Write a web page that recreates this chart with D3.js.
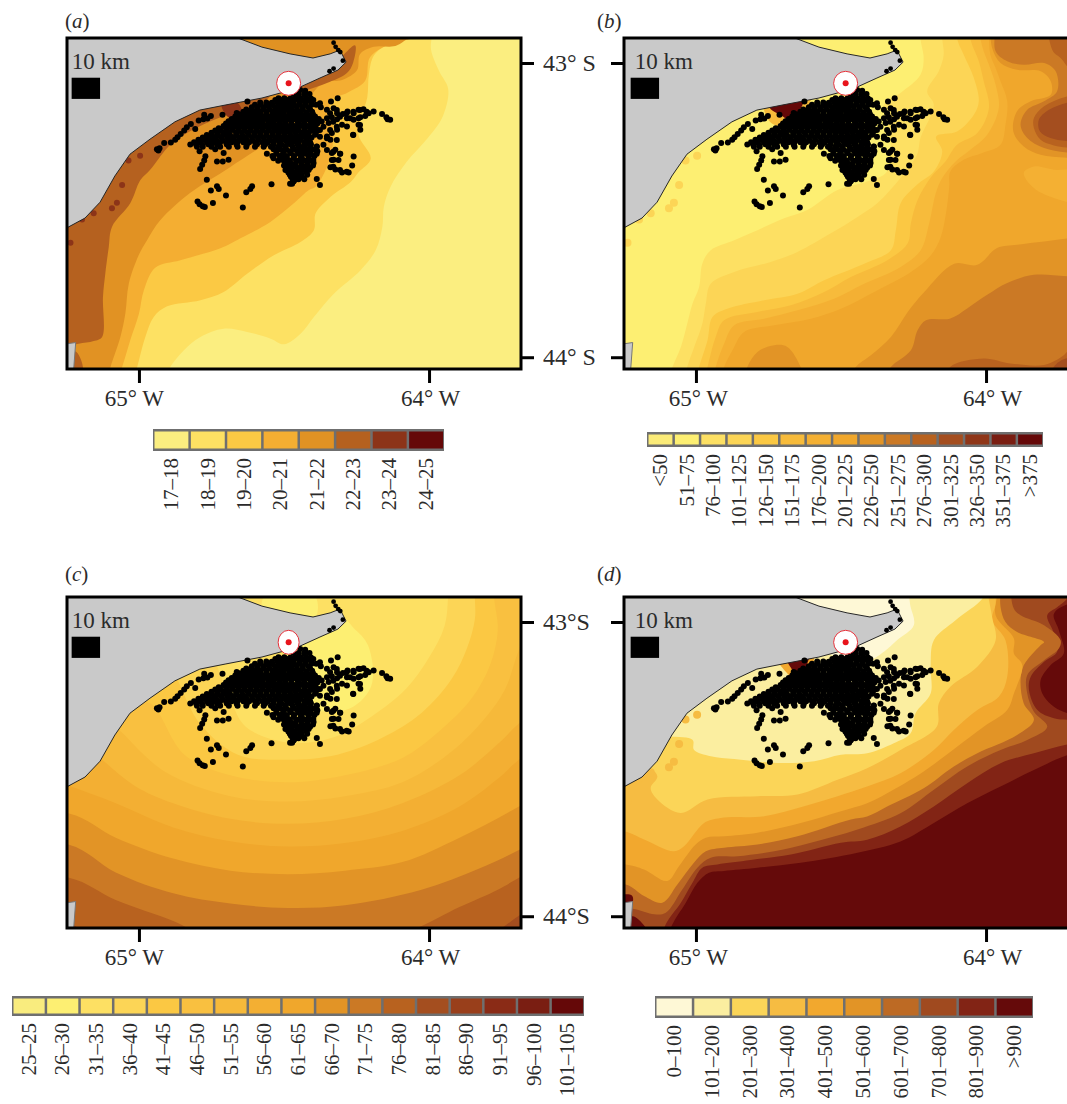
<!DOCTYPE html>
<html>
<head>
<meta charset="utf-8">
<script src="https://cdn.jsdelivr.net/npm/d3@7"></script>
<style>
  html, body { margin: 0; padding: 0; background: #fff; }
  svg { display: block; }
  text { font-family: "Liberation Serif", serif; fill: #2b2b2b; }
</style>
</head>
<body>
<div id="chart"></div>
<script>
// all map data in degrees west / degrees south

const labelsA = ['17–18', '18–19', '19–20', '20–21', '21–22', '22–23', '23–24', '24–25'];
const colorsA = ['#fbee80', '#fde163', '#fbc944', '#f4ae32', '#e19223', '#b5611f', '#8c3418', '#650808'];

const labelsB = ['<50', '51–75', '76–100', '101–125', '126–150', '151–175', '176–200', '201–225', '226–250', '251–275', '276–300', '301–325', '326–350', '351–375', '>375'];
const colorsB = ['#fbeb78', '#fdef72', '#fde063', '#fcd556', '#fbc843', '#f7bb3b', '#f4b033', '#f0a72c', '#e29426', '#cb7925', '#b8621f', '#a44e1f', '#8f3618', '#7a1e12', '#650808'];

const labelsC = ['25–25', '26–30', '31–35', '36–40', '41–45', '46–50', '51–55', '56–60', '61–65', '66–70', '71–75', '76–80', '81–85', '86–90', '91–95', '96–100', '101–105'];
const colorsC = ['#f9ec7e', '#fdef72', '#fde063', '#fcd556', '#fbc843', '#f9c040', '#f6b93a', '#f3af33', '#f0a72c', '#e29426', '#cb7925', '#b8621f', '#a44e1f', '#993f1b', '#8a2b16', '#7a1e12', '#650808'];

const labelsD = ['0–100', '101–200', '201–300', '301–400', '401–500', '501–600', '601–700', '701–800', '801–900', '>900'];
const colorsD = ['#fef8d6', '#fbeea0', '#fbd558', '#f6bc42', '#f2a82e', '#e29426', '#bd6a24', '#a04a1f', '#822415', '#650a0a'];

const mainland = [[65.4, 42.7], [64.66, 42.7], [64.659, 42.915], [64.576, 42.946], [64.479, 42.969], [64.40, 42.983], [64.341, 42.969], [64.307, 42.956], [64.286, 42.997], [64.314, 43.024], [64.376, 43.051], [64.445, 43.082], [64.486, 43.095], [64.576, 43.119], [64.703, 43.143], [64.79, 43.16], [64.876, 43.20], [64.962, 43.259], [65.031, 43.31], [65.083, 43.384], [65.134, 43.473], [65.186, 43.527], [65.248, 43.56], [65.4, 43.6]];
const island = [[65.3, 43.962], [65.218, 43.95], [65.228, 44.08], [65.3, 44.08]];

const sitePoint = [64.484, 43.069];
const scaleBar = [[65.232, 43.05], [65.134, 43.122]];

// blotches along the coast
const coastSpots = [[65.058, 43.415], [65.076, 43.475], [65.093, 43.494], [65.156, 43.511], [65.196, 43.532], [65.236, 43.611], [65.036, 43.331], [64.996, 43.315]];

// dive / sighting positions
const sightings = [
  [64.444,43.092],[64.427,43.094],[64.467,43.105],[64.449,43.105],[64.430,43.106],[64.412,43.105],
  [64.519,43.120],[64.499,43.120],[64.478,43.121],[64.460,43.119],[64.442,43.120],[64.423,43.120],[64.407,43.121],
  [64.582,43.134],[64.561,43.134],[64.542,43.135],[64.522,43.133],[64.504,43.134],[64.484,43.134],[64.467,43.135],[64.446,43.134],[64.427,43.134],[64.407,43.133],
  [64.611,43.150],[64.591,43.150],[64.570,43.151],[64.552,43.149],[64.531,43.150],[64.513,43.150],[64.495,43.151],[64.474,43.150],[64.456,43.149],[64.435,43.150],[64.415,43.151],
  [64.640,43.166],[64.621,43.166],[64.600,43.167],[64.582,43.165],[64.561,43.166],[64.540,43.166],[64.522,43.167],[64.504,43.166],[64.483,43.165],[64.465,43.166],[64.444,43.166],[64.423,43.167],[64.403,43.166],
  [64.668,43.182],[64.649,43.182],[64.628,43.183],[64.610,43.181],[64.589,43.182],[64.570,43.182],[64.550,43.183],[64.529,43.182],[64.511,43.181],[64.490,43.182],[64.472,43.182],[64.451,43.183],[64.432,43.182],[64.412,43.181],[64.393,43.182],
  [64.691,43.198],[64.672,43.198],[64.651,43.199],[64.633,43.197],[64.612,43.198],[64.593,43.198],[64.573,43.199],[64.552,43.198],[64.534,43.197],[64.513,43.198],[64.495,43.198],[64.474,43.199],[64.453,43.198],[64.432,43.197],[64.410,43.198],[64.389,43.198],[64.370,43.199],
  [64.708,43.214],[64.688,43.214],[64.667,43.215],[64.646,43.213],[64.628,43.214],[64.607,43.214],[64.587,43.215],[64.566,43.214],[64.545,43.213],[64.525,43.214],[64.504,43.214],[64.483,43.215],[64.462,43.214],[64.442,43.213],[64.419,43.214],[64.396,43.214],
  [64.737,43.229],[64.718,43.229],[64.697,43.230],[64.676,43.228],[64.656,43.229],[64.635,43.229],[64.614,43.230],[64.593,43.229],[64.573,43.228],[64.552,43.229],[64.531,43.229],[64.511,43.230],[64.490,43.229],[64.469,43.228],[64.449,43.229],[64.428,43.229],[64.404,43.230],[64.384,43.229],
  [64.766,43.245],[64.748,43.245],[64.727,43.246],[64.706,43.244],[64.686,43.245],[64.665,43.245],[64.644,43.246],[64.623,43.245],[64.603,43.244],[64.582,43.245],[64.561,43.245],[64.540,43.246],[64.520,43.245],[64.499,43.244],[64.478,43.245],[64.458,43.245],[64.437,43.246],[64.416,43.245],[64.393,43.244],
  [64.795,43.261],[64.775,43.261],[64.755,43.262],[64.734,43.260],[64.713,43.261],[64.692,43.261],[64.672,43.262],[64.651,43.261],[64.630,43.260],[64.610,43.261],[64.589,43.261],[64.568,43.262],[64.548,43.261],[64.527,43.260],[64.504,43.261],[64.483,43.261],[64.462,43.262],[64.442,43.261],[64.421,43.260],
  [64.823,43.277],[64.803,43.277],[64.782,43.278],[64.761,43.276],[64.731,43.277],[64.697,43.277],[64.663,43.278],[64.628,43.277],[64.593,43.276],[64.565,43.277],[64.536,43.277],[64.508,43.278],[64.478,43.277],[64.453,43.276],[64.430,43.277],[64.407,43.277],
  [64.536,43.293],[64.513,43.293],[64.492,43.294],[64.467,43.292],[64.444,43.293],[64.421,43.293],[64.396,43.294],
  [64.559,43.308],[64.527,43.308],[64.504,43.309],[64.476,43.307],[64.449,43.308],[64.427,43.308],[64.407,43.309],[64.387,43.308],
  [64.536,43.324],[64.508,43.324],[64.490,43.325],[64.467,43.323],[64.442,43.324],[64.415,43.324],
  [64.495,43.340],[64.478,43.340],[64.460,43.341],[64.440,43.339],[64.419,43.340],[64.398,43.340],
  [64.490,43.356],[64.472,43.356],[64.451,43.357],[64.430,43.355],[64.410,43.356],
  [64.485,43.372],[64.465,43.372],[64.444,43.373],[64.423,43.371],
  [64.476,43.387],[64.456,43.387],[64.437,43.388],[64.467,43.403],
  [64.338,43.131],[64.315,43.120],[64.389,43.142],[64.373,43.150],[64.352,43.159],[64.329,43.154],[64.317,43.171],[64.335,43.184],[64.346,43.204],[64.317,43.191],
  [64.297,43.173],[64.281,43.165],[64.260,43.171],[64.243,43.159],[64.226,43.157],[64.208,43.171],[64.191,43.165],[64.162,43.173],[64.147,43.184],[64.134,43.193],[64.143,43.191],
  [64.283,43.188],[64.260,43.193],[64.237,43.184],[64.243,43.210],[64.237,43.227],[64.220,43.180],[64.300,43.210],[64.317,43.227],[64.335,43.238],[64.352,43.250],[64.340,43.261],[64.262,43.244],[64.283,43.216],
  [64.364,43.278],[64.387,43.284],[64.323,43.295],[64.306,43.308],[64.335,43.306],[64.329,43.329],[64.340,43.354],[64.323,43.362],[64.300,43.372],[64.277,43.372],[64.265,43.348],[64.260,43.318],[64.387,43.394],[64.376,43.415],
  [64.766,43.397],[64.752,43.433],[64.731,43.419],[64.725,43.428],[64.700,43.450],[64.630,43.439],[64.616,43.428],[64.610,43.419],[64.543,43.412],[64.745,43.476],[64.798,43.471],[64.791,43.480],[64.780,43.487],[64.773,43.489],[64.642,43.491],[64.472,43.410],[64.465,43.399],
  [64.938,43.293],[64.929,43.290],[64.933,43.297],[64.913,43.272],[64.890,43.270],[64.875,43.261],[64.867,43.252],[64.856,43.241],[64.844,43.229],[64.835,43.218],[64.821,43.207],[64.806,43.224],[64.794,43.195],[64.775,43.176],[64.764,43.189],[64.778,43.191],[64.752,43.180],[64.712,43.176],[64.626,43.131],[64.663,43.170],
  [64.791,43.300],[64.771,43.317],[64.775,43.331],[64.782,43.346],[64.789,43.360],[64.731,43.335],[64.711,43.335],[64.691,43.329],[64.708,43.306],[64.737,43.293],
  // right arm, thicker part
  [64.341,43.171],[64.318,43.160],[64.284,43.171],[64.261,43.166],[64.238,43.160],[64.215,43.166],[64.352,43.188],[64.330,43.200],[64.307,43.183],[64.272,43.188],[64.243,43.188],
  [64.376,43.137],[64.399,43.126],[64.364,43.217],[64.341,43.228],[64.318,43.217],[64.376,43.251],[64.352,43.256],[64.318,43.262],[64.387,43.285],[64.352,43.296],[64.330,43.302],[64.307,43.308],
  [64.330,43.353],[64.307,43.364],[64.284,43.370],[64.376,43.228],[64.410,43.194],[64.399,43.217],[64.433,43.239],[64.422,43.274],[64.445,43.285],[64.410,43.308],[64.399,43.330],[64.433,43.330],
  [64.468,43.376],[64.433,43.353],[64.479,43.353],[64.456,43.387],[64.479,43.410],[64.502,43.330],[64.490,43.364],[64.238,43.211],[64.261,43.245],[64.335,43.330],[64.312,43.330]
];
// the solid middle of the cloud, one south latitude with its west longitudes
const denseRows = [
  [43.126, [64.53, 64.51, 64.49, 64.47, 64.45, 64.435, 64.415]],
  [43.142, [64.60, 64.58, 64.56, 64.54, 64.52, 64.50, 64.485, 64.465, 64.445, 64.425, 64.405]],
  [43.158, [64.63, 64.61, 64.59, 64.57, 64.55, 64.53, 64.51, 64.49, 64.475, 64.455, 64.435, 64.41]],
  [43.174, [64.655, 64.635, 64.615, 64.595, 64.58, 64.56, 64.54, 64.52, 64.50, 64.48, 64.46, 64.44, 64.42, 64.40]],
  [43.190, [64.68, 64.66, 64.64, 64.62, 64.60, 64.58, 64.56, 64.54, 64.52, 64.50, 64.485, 64.465, 64.445, 64.42, 64.40, 64.38]],
  [43.206, [64.70, 64.68, 64.66, 64.64, 64.62, 64.60, 64.58, 64.555, 64.535, 64.515, 64.495, 64.475, 64.45, 64.43, 64.405, 64.385]],
  [43.222, [64.725, 64.70, 64.68, 64.655, 64.635, 64.615, 64.595, 64.575, 64.555, 64.535, 64.515, 64.495, 64.475, 64.455, 64.43, 64.41, 64.39]],
  [43.237, [64.75, 64.73, 64.71, 64.69, 64.665, 64.645, 64.625, 64.60, 64.58, 64.56, 64.54, 64.52, 64.50, 64.48, 64.46, 64.44, 64.415, 64.39]],
  [43.253, [64.78, 64.76, 64.74, 64.715, 64.695, 64.675, 64.655, 64.635, 64.61, 64.59, 64.57, 64.55, 64.53, 64.51, 64.49, 64.47, 64.45, 64.425, 64.405]],
  [43.269, [64.81, 64.79, 64.765, 64.745, 64.72, 64.70, 64.68, 64.66, 64.64, 64.62, 64.60, 64.575, 64.555, 64.535, 64.515, 64.49, 64.47, 64.45, 64.43, 64.41]],
  [43.285, [64.80, 64.78, 64.75, 64.72, 64.69, 64.66, 64.63, 64.60, 64.57, 64.545, 64.52, 64.495, 64.47, 64.45, 64.43, 64.41]],
  [43.300, [64.525, 64.50, 64.48, 64.455, 64.435, 64.41, 64.385]],
  [43.316, [64.54, 64.515, 64.49, 64.465, 64.44, 64.415, 64.395]],
  [43.332, [64.52, 64.50, 64.48, 64.455, 64.43, 64.405]],
  [43.348, [64.50, 64.48, 64.46, 64.44, 64.42, 64.40]],
  [43.364, [64.495, 64.475, 64.455, 64.435, 64.415]],
  [43.380, [64.48, 64.46, 64.44, 64.42]],
  [43.395, [64.47, 64.45, 64.43]]
];
const tipSightings = [[64.329, 42.931], [64.322, 42.945], [64.313, 42.956], [64.306, 42.963], [64.297, 42.992], [64.329, 43.019], [64.343, 43.028]];

// contour rings as [legend class, polygon], painted in order over the base class
const baseA = 0;
const isoA = [
  [1, [[63.99,42.7],[63.99,42.9],[63.993,42.955],[63.964,43.03],[63.934,43.088],[63.952,43.18],[64.005,43.256],[64.077,43.336],[64.133,43.421],[64.156,43.489],[64.161,43.557],[64.184,43.636],[64.236,43.704],[64.328,43.784],[64.397,43.863],[64.443,43.92],[64.50,43.956],[64.546,43.937],[64.627,43.914],[64.708,43.903],[64.788,43.931],[64.845,43.976],[64.892,44.033],[64.915,44.08],[65.6,44.3],[65.6,42.7]]],
  [2, [[64.05,42.75],[64.053,42.9],[64.124,42.926],[64.189,42.973],[64.207,43.036],[64.213,43.117],[64.231,43.175],[64.243,43.244],[64.201,43.325],[64.243,43.371],[64.27,43.404],[64.34,43.455],[64.391,43.511],[64.397,43.568],[64.443,43.608],[64.535,43.653],[64.627,43.716],[64.708,43.778],[64.788,43.806],[64.903,43.827],[64.949,43.863],[64.978,43.931],[65.006,44.033],[65.02,44.08],[65.6,44.3],[65.6,42.7]]],
  [3, [[64.05,42.75],[64.055,42.91],[64.124,42.93],[64.203,42.98],[64.22,43.06],[64.28,43.10],[64.34,43.13],[64.33,43.23],[64.34,43.32],[64.39,43.42],[64.414,43.432],[64.466,43.477],[64.547,43.54],[64.65,43.596],[64.719,43.63],[64.857,43.67],[64.943,43.695],[64.983,43.772],[65.0,43.852],[65.03,43.942],[65.058,44.033],[65.076,44.08],[65.6,44.3],[65.6,42.7]]],
  [4, [[64.05,42.75],[64.05,42.88],[64.11,42.94],[64.19,42.945],[64.238,42.97],[64.248,43.024],[64.30,43.058],[64.366,43.068],[64.45,43.17],[64.514,43.238],[64.686,43.354],[64.824,43.442],[64.926,43.534],[64.972,43.602],[65.001,43.653],[65.035,43.75],[65.047,43.852],[65.064,43.931],[65.098,44.033],[65.11,44.08],[65.6,44.3],[65.6,42.7]]],
  [5, [[64.6,43.0],[64.55,43.05],[64.55,43.115],[64.6,43.14],[64.68,43.17],[64.78,43.21],[64.87,43.26],[64.903,43.289],[64.962,43.364],[64.995,43.398],[65.03,43.477],[65.093,43.557],[65.104,43.625],[65.116,43.716],[65.124,43.795],[65.127,43.931],[65.156,43.945],[65.208,43.954],[65.248,43.96],[65.5,43.96],[65.5,43.0]]],
  [5, [[64.255,42.94],[64.262,43.0],[64.283,43.034],[64.352,43.068],[64.421,43.092],[64.47,43.105],[64.45,43.03],[64.33,43.0]]],
  [5, [[65.22,43.98],[65.195,44.05],[65.3,44.05]]],
  [6, [[64.714,43.142],[64.662,43.134],[64.645,43.17],[64.686,43.187],[64.708,43.165]]]
];

const baseB = 1;
const isoB = [
  [2, [[64.22,42.8],[64.226,42.915],[64.215,42.983],[64.226,43.04],[64.295,43.102],[64.352,43.142],[64.33,43.255],[64.341,43.369],[64.41,43.403],[64.512,43.432],[64.616,43.5],[64.696,43.528],[64.788,43.568],[64.868,43.602],[64.949,43.636],[64.978,43.682],[64.989,43.761],[65.012,43.818],[65.03,43.886],[65.052,43.965],[65.081,44.033],[65.098,44.08],[65.1,44.3],[63.4,44.3],[63.4,42.8]]],
  [3, [[64.15,42.8],[64.151,42.915],[64.146,42.972],[64.163,43.028],[64.203,43.096],[64.18,43.142],[64.226,43.255],[64.238,43.312],[64.295,43.391],[64.374,43.476],[64.443,43.523],[64.535,43.579],[64.65,43.642],[64.742,43.676],[64.868,43.71],[64.949,43.75],[64.966,43.818],[64.978,43.886],[65.006,43.965],[65.03,44.033],[65.04,44.08],[65.04,44.3],[63.4,44.3],[63.4,42.8]]],
  [4, [[64.1,42.8],[64.1,42.915],[64.077,42.972],[64.042,43.051],[64.025,43.13],[64.042,43.176],[64.1,43.233],[64.172,43.25],[64.151,43.3],[64.18,43.369],[64.238,43.414],[64.294,43.476],[64.311,43.568],[64.328,43.636],[64.42,43.682],[64.558,43.738],[64.65,43.784],[64.765,43.806],[64.892,43.835],[64.943,43.863],[64.96,43.942],[64.989,44.033],[65.0,44.08],[65.0,44.3],[63.4,44.3],[63.4,42.8]]],
  [5, [[64.05,42.8],[64.054,42.915],[64.025,42.994],[64.008,43.062],[63.99,43.153],[64.03,43.238],[64.1,43.278],[64.14,43.335],[64.192,43.391],[64.236,43.466],[64.259,43.545],[64.27,43.613],[64.34,43.67],[64.466,43.727],[64.558,43.778],[64.673,43.823],[64.788,43.846],[64.903,43.874],[64.932,43.931],[64.96,44.033],[64.972,44.08],[64.972,44.3],[63.4,44.3],[63.4,42.8]]],
  [6, [[64.02,42.8],[64.019,42.915],[64.008,42.96],[63.99,43.006],[63.967,43.074],[63.956,43.153],[63.996,43.244],[64.054,43.295],[64.105,43.335],[64.151,43.391],[64.173,43.442],[64.196,43.545],[64.225,43.636],[64.294,43.693],[64.42,43.75],[64.524,43.801],[64.65,43.84],[64.765,43.869],[64.868,43.891],[64.903,43.954],[64.932,44.033],[64.943,44.08],[64.943,44.3],[63.4,44.3],[63.4,42.8]]],
  [7, [[63.99,42.8],[63.99,42.915],[63.985,42.972],[63.967,43.017],[63.95,43.062],[63.927,43.13],[63.933,43.21],[63.95,43.278],[64.013,43.306],[64.077,43.329],[64.123,43.369],[64.127,43.421],[64.138,43.511],[64.156,43.591],[64.19,43.653],[64.259,43.71],[64.374,43.772],[64.5,43.835],[64.604,43.869],[64.73,43.891],[64.834,43.914],[64.874,43.976],[64.903,44.033],[64.915,44.08],[64.915,44.3],[63.4,44.3],[63.4,42.8]]],
  [6, [[63.87,43.374],[63.835,43.352],[63.766,43.363],[63.697,43.369],[63.686,43.471],[63.766,43.459],[63.835,43.425]]],
  [8, [[64.823,44.033],[64.788,43.982],[64.73,43.959],[64.685,43.965],[64.639,44.033],[64.627,44.08],[64.834,44.08]]],
  [8, [[64.47,44.08],[64.449,44.033],[64.397,43.993],[64.328,43.931],[64.27,43.846],[64.213,43.778],[64.11,43.682],[64.03,43.686],[63.962,43.629],[63.893,43.618],[63.8,43.607],[63.697,43.595],[63.4,43.6],[63.4,44.3],[64.45,44.3]]],
  [9, [[64.35,44.08],[64.328,44.033],[64.259,43.976],[64.236,43.908],[64.207,43.874],[64.123,43.868],[64.065,43.834],[63.996,43.788],[63.927,43.748],[63.835,43.72],[63.697,43.726],[63.4,43.73],[63.4,44.3],[64.35,44.3]]],
  [10, [[64.14,44.08],[64.123,44.032],[64.008,44.004],[63.916,44.021],[63.8,44.026],[63.731,43.992],[63.697,43.958],[63.4,43.95],[63.4,44.3],[64.14,44.3]]],
  [11, [[63.766,44.032],[63.697,44.004],[63.6,44.2],[63.766,44.2]]],
  [8, [[63.985,42.8],[63.985,42.87],[63.979,42.949],[63.95,43.0],[63.893,43.023],[63.812,43.028],[63.777,43.062],[63.777,43.108],[63.846,43.13],[63.893,43.164],[63.906,43.233],[63.87,43.284],[63.812,43.312],[63.697,43.323],[63.4,43.33],[63.4,42.8]]],
  [9, [[63.967,42.8],[63.967,42.87],[63.967,42.96],[63.927,42.994],[63.87,43.006],[63.8,43.0],[63.76,43.028],[63.755,43.096],[63.8,43.13],[63.858,43.159],[63.881,43.21],[63.858,43.255],[63.8,43.289],[63.697,43.306],[63.4,43.31],[63.4,42.8]]],
  [10, [[63.697,43.108],[63.8,43.147],[63.835,43.187],[63.835,43.221],[63.812,43.261],[63.766,43.28],[63.697,43.289],[63.4,43.29],[63.4,43.1]]],
  [11, [[63.697,43.13],[63.783,43.159],[63.818,43.193],[63.814,43.233],[63.778,43.255],[63.697,43.267],[63.4,43.27],[63.4,43.13]]],
  [10, [[63.772,42.8],[63.772,42.955],[63.743,42.983],[63.697,43.028],[63.4,43.03],[63.4,42.8]]],
  [5, [[64.766,43.10],[64.745,43.20],[64.68,43.215],[64.62,43.16],[64.60,43.08]]],
  [14, [[64.745,43.13],[64.745,43.153],[64.703,43.18],[64.676,43.194],[64.628,43.129],[64.64,43.08]]]
];

const baseC = 12;
const isoC = [
  [11, [[65.241,44.02],[65.159,44.06],[64.487,44.11],[63.789,44.057],[63.69,43.998],[63.565,43.92],[63.4,42.7],[65.6,42.7],[65.3,43.97]]],
  [10, [[65.241,43.869],[65.08,43.945],[64.882,44.016],[64.79,44.057],[64.487,44.10],[64.092,44.057],[63.895,43.969],[63.763,43.91],[63.69,43.869],[63.56,43.8],[63.4,42.7],[65.6,42.7],[65.6,43.87]]],
  [9, [[65.241,43.757],[65.08,43.851],[64.882,43.922],[64.685,43.957],[64.487,43.972],[64.29,43.963],[64.026,43.91],[63.829,43.839],[63.69,43.775],[63.56,43.7],[63.4,42.7],[65.6,42.7],[65.6,43.76]]],
  [8, [[65.241,43.651],[65.08,43.733],[64.882,43.804],[64.685,43.845],[64.487,43.857],[64.29,43.845],[64.092,43.816],[63.895,43.733],[63.69,43.627],[63.56,43.55],[63.4,42.7],[65.6,42.7],[65.6,43.65]]],
  [7, [[65.26,43.55],[65.08,43.616],[64.882,43.698],[64.685,43.745],[64.487,43.763],[64.29,43.751],[64.092,43.71],[63.895,43.627],[63.763,43.533],[63.69,43.468],[63.56,43.38],[63.4,42.7],[65.4,42.7],[65.4,43.5]]],
  [6, [[65.2,43.4],[65.133,43.462],[65.014,43.557],[64.882,43.616],[64.685,43.669],[64.487,43.686],[64.29,43.669],[64.092,43.616],[63.895,43.521],[63.763,43.415],[63.69,43.345],[63.56,43.25],[63.4,42.7],[65.2,42.7]]],
  [5, [[65.1,43.33],[65.054,43.38],[64.909,43.51],[64.685,43.592],[64.487,43.61],[64.29,43.592],[64.092,43.545],[63.921,43.439],[63.802,43.321],[63.737,43.227],[63.704,43.133],[63.671,43.027],[63.671,42.909],[63.65,42.7],[65.1,42.7],[65.1,42.9]]],
  [4, [[65.0,43.25],[64.948,43.286],[64.843,43.451],[64.685,43.521],[64.487,43.545],[64.29,43.521],[64.092,43.462],[63.961,43.368],[63.855,43.262],[63.789,43.144],[63.763,43.027],[63.776,42.909],[63.77,42.7],[65.0,42.7]]],
  [3, [[64.9,43.15],[64.882,43.168],[64.79,43.345],[64.659,43.451],[64.487,43.468],[64.316,43.451],[64.158,43.392],[64.026,43.309],[63.921,43.192],[63.868,43.086],[63.842,42.991],[63.842,42.909],[63.84,42.7],[64.9,42.7]]],
  [2, [[64.75,43.1],[64.737,43.133],[64.685,43.262],[64.632,43.356],[64.487,43.41],[64.329,43.392],[64.198,43.321],[64.079,43.227],[64.0,43.121],[63.947,43.015],[63.934,42.909],[63.93,42.7],[64.75,42.7]]],
  [1, [[64.5,43.1],[64.5,43.26],[64.29,43.30],[64.2,43.22],[64.21,43.08],[64.26,43.02],[64.31,42.98]]],
  [1, [[64.566,42.909],[64.395,42.909],[64.395,42.991],[64.566,42.991]]]
];

const baseD = 9;
const isoD = [
  [8, [[65.1,44.08],[65.081,44.027],[65.035,43.954],[64.995,43.886],[64.955,43.852],[64.903,43.846],[64.788,43.835],[64.639,43.818],[64.443,43.784],[64.295,43.746],[64.18,43.683],[64.065,43.616],[63.95,43.559],[63.835,43.503],[63.697,43.446],[63.5,43.42],[63.5,43.33],[63.697,43.316],[63.766,43.288],[63.806,43.243],[63.812,43.198],[63.778,43.147],[63.732,43.107],[63.749,43.028],[63.766,42.972],[63.697,42.932],[63.4,42.9],[63.4,42.7],[65.5,42.7],[65.5,44.2],[65.11,44.2]]],
  [7, [[65.12,44.08],[65.104,44.027],[65.052,43.954],[65.012,43.886],[64.978,43.835],[64.926,43.824],[64.811,43.809],[64.673,43.79],[64.5,43.75],[64.41,43.74],[64.295,43.695],[64.18,43.627],[64.065,43.548],[63.95,43.48],[63.835,43.446],[63.697,43.412],[63.5,43.4],[63.5,43.34],[63.697,43.333],[63.766,43.327],[63.823,43.299],[63.852,43.231],[63.846,43.186],[63.8,43.135],[63.755,43.101],[63.766,43.039],[63.789,42.977],[63.754,42.949],[63.72,42.92],[63.6,42.7],[65.5,42.7],[65.5,44.2],[65.13,44.2]]],
  [6, [[65.248,43.97],[65.208,43.976],[65.144,43.993],[65.104,43.988],[65.047,43.909],[64.995,43.835],[64.949,43.801],[64.857,43.796],[64.73,43.779],[64.604,43.75],[64.443,43.705],[64.295,43.65],[64.18,43.57],[64.065,43.491],[63.95,43.435],[63.858,43.401],[63.789,43.356],[63.835,43.305],[63.858,43.243],[63.858,43.181],[63.8,43.13],[63.749,43.09],[63.743,43.062],[63.8,43.011],[63.881,42.977],[63.904,42.955],[63.916,42.88],[63.916,42.7],[65.5,42.7],[65.5,43.97]]],
  [5, [[65.242,43.892],[65.179,43.931],[65.116,43.954],[65.064,43.892],[65.007,43.818],[64.966,43.779],[64.903,43.767],[64.788,43.756],[64.65,43.728],[64.466,43.671],[64.41,43.661],[64.341,43.627],[64.215,43.565],[64.111,43.491],[64.03,43.446],[63.893,43.384],[63.835,43.333],[63.87,43.277],[63.881,43.198],[63.87,43.147],[63.812,43.079],[63.8,43.068],[63.893,43.034],[63.933,43.0],[63.95,42.949],[63.95,42.88],[63.95,42.7],[65.5,42.7],[65.5,43.89]]],
  [4, [[65.242,43.824],[65.179,43.841],[65.099,43.88],[65.058,43.829],[65.001,43.756],[64.966,43.733],[64.903,43.728],[64.788,43.716],[64.639,43.683],[64.5,43.643],[64.41,43.616],[64.341,43.582],[64.215,43.508],[64.1,43.424],[64.008,43.356],[63.927,43.299],[63.904,43.243],[63.875,43.147],[63.904,43.107],[63.904,43.056],[63.967,42.977],[63.956,42.88],[63.956,42.7],[65.5,42.7],[65.5,43.82]]],
  [3, [[65.248,43.711],[65.179,43.739],[65.076,43.779],[65.041,43.762],[64.972,43.683],[64.915,43.666],[64.765,43.66],[64.627,43.626],[64.512,43.592],[64.41,43.559],[64.295,43.514],[64.18,43.435],[64.111,43.367],[64.03,43.299],[63.956,43.254],[63.927,43.186],[63.933,43.062],[63.979,42.994],[63.967,42.938],[63.967,42.88],[63.967,42.7],[65.5,42.7],[65.5,43.7]]],
  [2, [[65.2,43.45],[65.133,43.524],[65.156,43.564],[65.133,43.603],[65.053,43.649],[64.96,43.603],[64.788,43.592],[64.65,43.586],[64.512,43.536],[64.41,43.497],[64.295,43.435],[64.17,43.356],[64.163,43.277],[64.123,43.22],[64.03,43.152],[63.967,43.062],[63.979,42.983],[63.996,42.88],[63.996,42.7],[65.3,42.7]]],
  [1, [[65.2,43.36],[65.012,43.4],[65.007,43.434],[64.949,43.456],[64.868,43.466],[64.719,43.479],[64.592,43.473],[64.5,43.451],[64.41,43.446],[64.318,43.412],[64.26,43.378],[64.243,43.31],[64.191,43.243],[64.191,43.152],[64.18,43.062],[64.105,42.994],[64.013,42.921],[63.996,42.88],[63.996,42.7],[65.2,42.7]]],
  [0, [[64.7,42.7],[64.278,42.892],[64.26,42.949],[64.249,43.011],[64.307,43.062],[64.352,43.101],[64.41,43.13],[64.6,43.08],[64.7,42.92]]],
  [4, [[64.724,43.112],[64.60,43.095],[64.60,43.156],[64.648,43.203],[64.69,43.169]]],
  [9, [[64.69,43.11],[64.61,43.10],[64.62,43.15],[64.645,43.185],[64.67,43.16]]],
  [9, [[65.26,43.93],[65.22,43.93],[65.22,43.955],[65.26,43.955]]],
  [9, [[65.22,44.0],[65.18,44.03],[65.16,44.08],[65.25,44.08]]]
];

const panels = [
  { id: 'a', left: 67, top: 38, iso: isoA, base: baseA, colors: colorsA, labels: labelsA, spot: 6, spotR: 3, latFormat: d => `${d}° S`, latSide: 'right', siteRx: 12,
    tagX: -2, tagY: -10, barShift: 0, kmShift: 0, lonShift: { 65: -5, 64: 1 }, legend: { x: 153, y: 429, w: 291, h: 22 } },
  { id: 'b', left: 624, top: 38, iso: isoB, base: baseB, colors: colorsB, labels: labelsB, spot: 3, spotR: 4, latFormat: null, latSide: 'left', siteRx: 12,
    tagX: -27, tagY: -10, barShift: 2, kmShift: 6, lonShift: { 65: 2, 64: 6 }, legend: { x: 647, y: 432, w: 396, h: 15 } },
  { id: 'c', left: 67, top: 597, iso: isoC, base: baseC, colors: colorsC, labels: labelsC, spot: null, spotR: 0, latFormat: d => `${d}°S`, latSide: 'right', siteRx: 10.5,
    tagX: -2, tagY: -16, barShift: 0, kmShift: 0, lonShift: { 65: -5, 64: 1 }, legend: { x: 12, y: 996, w: 572, h: 20 } },
  { id: 'd', left: 624, top: 597, iso: isoD, base: baseD, colors: colorsD, labels: labelsD, spot: 3, spotR: 4, latFormat: null, latSide: 'left', siteRx: 12,
    tagX: -27, tagY: -16, barShift: 2, kmShift: 6, lonShift: { 65: 2, 64: 6 }, legend: { x: 655, y: 996, w: 378, h: 22 } }
];

const width = 1067, height = 1104;
const mapWidth = 454, mapHeight = 331;

const xScale = d3.scaleLinear().domain([65.248, 63.683]).range([0, mapWidth]);
const yScale = d3.scaleLinear().domain([42.915, 44.04]).range([0, mapHeight]);

const allSightings = sightings.concat(denseRows.flatMap(row => row[1].map(w => [w, row[0]])));

const svg = d3.select('#chart').append('svg')
  .attr('width', width)
  .attr('height', height);

const ringPath = d3.line()
  .x(d => xScale(d[0]))
  .y(d => yScale(d[1]))
  .curve(d3.curveCatmullRomClosed.alpha(0.5));

const straightPath = d3.line()
  .x(d => xScale(d[0]))
  .y(d => yScale(d[1]));

panels.forEach(p => {
  const g = svg.append('g').attr('transform', `translate(${p.left},${p.top})`);

  g.append('text')
    .attr('x', p.tagX)
    .attr('y', p.tagY)
    .attr('font-size', 21)
    .html(`(<tspan font-style="italic">${p.id}</tspan>)`);

  svg.append('clipPath').attr('id', `clip-${p.id}`)
    .append('rect').attr('width', mapWidth).attr('height', mapHeight);

  const map = g.append('g').attr('clip-path', `url(#clip-${p.id})`);

  map.append('rect')
    .attr('width', mapWidth)
    .attr('height', mapHeight)
    .attr('fill', p.colors[p.base]);

  map.selectAll('path.band')
    .data(p.iso)
    .join('path')
    .attr('class', 'band')
    .attr('d', d => ringPath(d[1]))
    .attr('fill', d => p.colors[d[0]]);

  if (p.spot !== null) {
    map.selectAll('circle.spot')
      .data(coastSpots)
      .join('circle')
      .attr('class', 'spot')
      .attr('cx', d => xScale(d[0]))
      .attr('cy', d => yScale(d[1]))
      .attr('r', p.spotR)
      .attr('fill', p.colors[p.spot]);
  }

  map.append('path')
    .attr('d', straightPath(mainland) + 'Z')
    .attr('fill', '#c9c9c9')
    .attr('stroke', '#262626')
    .attr('stroke-width', 1);

  map.append('path')
    .attr('d', straightPath(island) + 'Z')
    .attr('fill', '#c9c9c9')
    .attr('stroke', '#777')
    .attr('stroke-width', 1);

  map.selectAll('circle.tip')
    .data(tipSightings)
    .join('circle')
    .attr('class', 'tip')
    .attr('cx', d => xScale(d[0]))
    .attr('cy', d => yScale(d[1]))
    .attr('r', 2.4)
    .attr('fill', '#000');

  map.selectAll('circle.sighting')
    .data(allSightings)
    .join('circle')
    .attr('class', 'sighting')
    .attr('cx', d => xScale(d[0]))
    .attr('cy', d => yScale(d[1]))
    .attr('r', 3)
    .attr('fill', '#000');

  map.append('ellipse')
    .attr('cx', xScale(sitePoint[0]))
    .attr('cy', yScale(sitePoint[1]))
    .attr('rx', p.siteRx)
    .attr('ry', 12)
    .attr('fill', '#fff')
    .attr('stroke', '#e5313a')
    .attr('stroke-width', 1);

  map.append('circle')
    .attr('cx', xScale(sitePoint[0]))
    .attr('cy', yScale(sitePoint[1]))
    .attr('r', 3)
    .attr('fill', '#e8141c');

  // 10 km scale bar
  map.append('rect')
    .attr('x', xScale(scaleBar[0][0]) + p.barShift)
    .attr('y', yScale(scaleBar[0][1]))
    .attr('width', xScale(scaleBar[1][0]) - xScale(scaleBar[0][0]))
    .attr('height', yScale(scaleBar[1][1]) - yScale(scaleBar[0][1]))
    .attr('fill', '#000');

  map.append('text')
    .attr('x', xScale(scaleBar[0][0]) + p.kmShift)
    .attr('y', yScale(scaleBar[0][1]) - 9)
    .attr('font-size', 23)
    .text('10 km');

  g.append('rect')
    .attr('width', mapWidth)
    .attr('height', mapHeight)
    .attr('fill', 'none')
    .attr('stroke', '#000')
    .attr('stroke-width', 3);

  // axes
  const xAxis = d3.axisBottom(xScale)
    .tickValues([65, 64])
    .tickFormat(d => `${d}° W`)
    .tickSize(14)
    .tickPadding(7);

  const xg = g.append('g')
    .attr('transform', `translate(0,${mapHeight})`)
    .call(xAxis);
  xg.select('.domain').remove();
  xg.selectAll('line').attr('stroke', '#000').attr('stroke-width', 3);
  xg.selectAll('text')
    .attr('dx', d => p.lonShift[d])
    .attr('font-size', 23)
    .attr('font-family', '"Liberation Serif", serif')
    .attr('fill', '#2b2b2b');

  const latAxis = (p.latSide === 'right' ? d3.axisRight(yScale) : d3.axisLeft(yScale))
    .tickValues([43, 44])
    .tickFormat(p.latFormat || '')
    .tickSize(13)
    .tickPadding(9);

  const yg = g.append('g')
    .attr('transform', `translate(${p.latSide === 'right' ? mapWidth : 0},0)`)
    .call(latAxis);
  yg.select('.domain').remove();
  yg.selectAll('line').attr('stroke', '#000').attr('stroke-width', 3);
  yg.selectAll('text')
    .attr('font-size', 24)
    .attr('font-family', '"Liberation Serif", serif')
    .attr('fill', '#2b2b2b');

  // legend strip
  const lg = svg.append('g').attr('transform', `translate(${p.legend.x},${p.legend.y})`);
  const band = d3.scaleBand().domain(p.labels).range([0, p.legend.w]);

  lg.append('rect')
    .attr('width', p.legend.w)
    .attr('height', p.legend.h)
    .attr('fill', '#6f6f6f');

  lg.selectAll('rect.swatch')
    .data(p.labels)
    .join('rect')
    .attr('class', 'swatch')
    .attr('x', d => band(d) + 1.5)
    .attr('y', 2.5)
    .attr('width', band.bandwidth() - 2.5)
    .attr('height', p.legend.h - 5)
    .attr('fill', (d, i) => p.colors[i]);

  lg.selectAll('text')
    .data(p.labels)
    .join('text')
    .attr('transform', d => `translate(${band(d) + band.bandwidth() / 2 + 7},${p.legend.h + 7}) rotate(-90)`)
    .attr('text-anchor', 'end')
    .attr('font-size', 21)
    .text(d => d);
});
</script>
</body>
</html>
